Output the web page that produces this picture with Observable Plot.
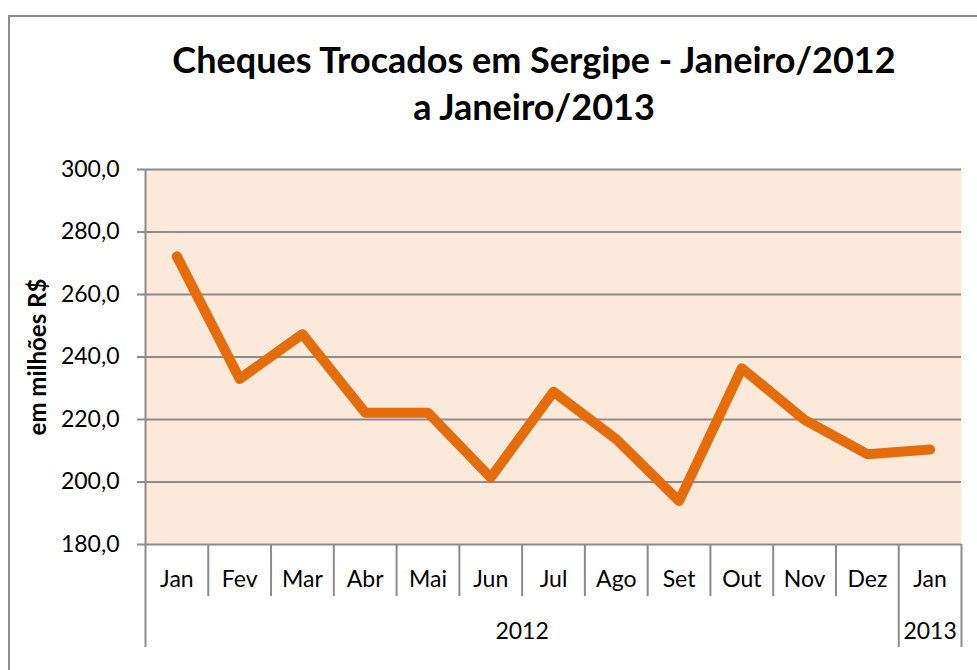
<!DOCTYPE html>
<html>
<head>
<meta charset="utf-8">
<script src="https://cdn.jsdelivr.net/npm/d3@7"></script>
<script src="https://cdn.jsdelivr.net/npm/@observablehq/plot@0.6"></script>
<style>
  html, body { margin: 0; padding: 0; background: #fff; }
  #wrap { position: relative; width: 977px; height: 670px; overflow: hidden; font-family: Lato, "Open Sans", sans-serif; }
  #border { position: absolute; left: 8px; top: 15px; width: 1100px; height: 800px; border: 2px solid #8c8c8c; box-sizing: border-box; }
  #title { position: absolute; left: 0; top: 36px; width: 1068px; text-align: center; font-weight: bold; font-size: 36px; line-height: 47px; color: #000; }
  #chart { position: absolute; left: 0; top: 0; }
</style>
</head>
<body>
<div id="wrap">
  <div id="border"></div>
  <div id="chart"></div>
  <div id="title">Cheques Trocados em Sergipe - Janeiro/2012<br>a Janeiro/2013</div>
</div>
<script>
// ---- data ----
const months = ["Jan", "Fev", "Mar", "Abr", "Mai", "Jun", "Jul", "Ago", "Set", "Out", "Nov", "Dez", "Jan"];
const values = [272.2, 233.0, 247.3, 222.2, 222.2, 201.4, 228.9, 213.7, 193.9, 236.4, 219.9, 208.9, 210.4];
const yearLabels = ["2012", "2013"];
const yearSpans = [12, 1];
const yTicks = [180, 200, 220, 240, 260, 280, 300];
const yTitle = "em milhões R$";

// ---- derived tables ----
const points = months.map((m, i) => ({i, month: m, value: values[i]}));
let acc = 0;
const years = yearLabels.map((y, k) => { const start = acc; acc += yearSpans[k]; return {year: y, start, end: acc}; });
const yearBounds = [0, ...years.map(d => d.end)];
const monthBounds = d3.range(1, months.length).filter(b => !yearBounds.includes(b));

const gridColor = "#8c8c8c";
const font = "Lato, 'Open Sans', sans-serif";

const chart = Plot.plot({
  width: 977,
  height: 670,
  marginLeft: 145,
  marginRight: 16,
  marginTop: 169,
  marginBottom: 126,
  style: {fontFamily: font, background: "transparent", overflow: "visible"},
  x: {type: "linear", domain: [0, months.length], axis: null},
  y: {type: "linear", domain: [180, 300], axis: null},
  marks: [
    Plot.frame({fill: "#fde9d9", stroke: "none"}),
    Plot.ruleY(yTicks, {stroke: gridColor, strokeWidth: 2}),
    // y tick marks
    Plot.ruleY(yTicks, {x1: 0, x2: 0, insetLeft: -8, stroke: gridColor, strokeWidth: 2}),
    // y axis line (extends through category axis)
    Plot.ruleX([0], {y1: 300, y2: 180, insetBottom: -103, stroke: gridColor, strokeWidth: 2}),
    // month dividers
    Plot.ruleX(monthBounds, {y1: 180, y2: 180, insetBottom: -52, stroke: gridColor, strokeWidth: 2}),
    // year dividers
    Plot.ruleX(yearBounds.slice(1), {y1: 180, y2: 180, insetBottom: -103, stroke: gridColor, strokeWidth: 2}),
    // y tick labels
    Plot.text(yTicks, {x: 0, y: d => d, text: d => d.toFixed(1).replace(".", ","), textAnchor: "end", dx: -26, fontSize: 23, fill: "#000"}),
    // y title
    Plot.text([yTitle], {frameAnchor: "left", textAnchor: "middle", rotate: -90, dx: -107, fontSize: 24, fontWeight: "bold", fill: "#000"}),
    // month labels
    Plot.text(points, {x: d => d.i + 0.5, y: 180, text: "month", dy: 35, fontSize: 23, fill: "#000"}),
    // year labels
    Plot.text(years, {x: d => (d.start + d.end) / 2, y: 180, text: "year", dy: 87, fontSize: 23, fill: "#000"}),
    // data line
    Plot.line(points, {x: d => d.i + 0.5, y: "value", stroke: "#e46c0a", strokeWidth: 10, strokeLinecap: "round", strokeLinejoin: "round"})
  ]
});
document.getElementById("chart").appendChild(chart);
</script>
</body>
</html>
